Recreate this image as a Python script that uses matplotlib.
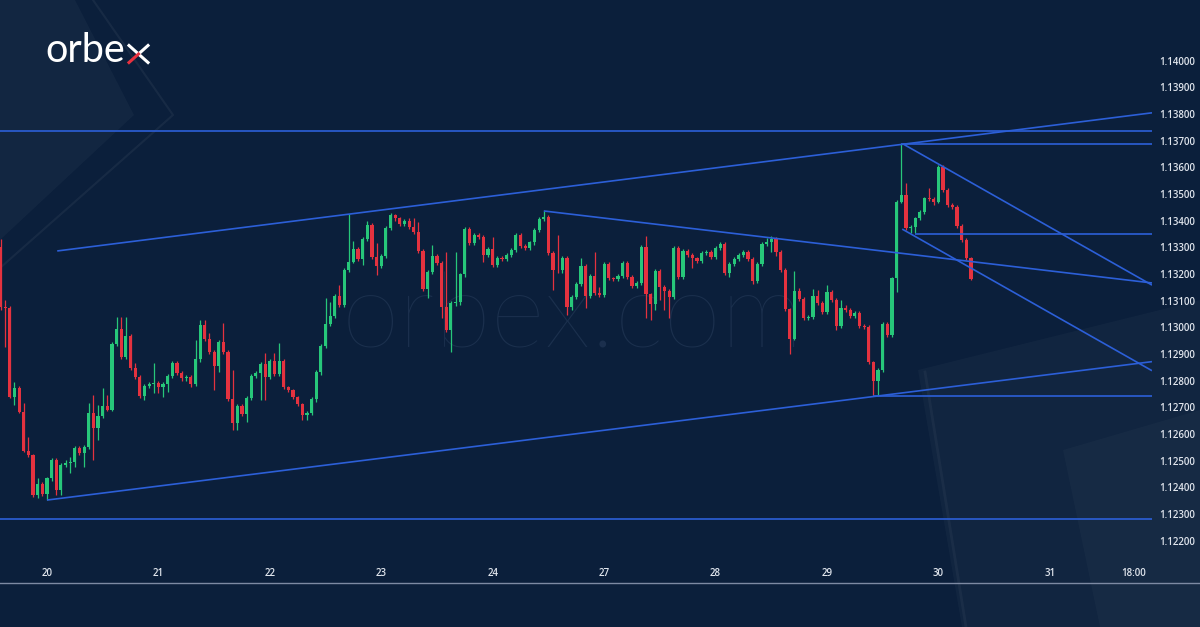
import numpy as np
import matplotlib
matplotlib.use("Agg")
import matplotlib.pyplot as plt
from matplotlib.patches import Polygon

# ---------------- data (H1 candles, hours counted from the "20" day label) ----------------
first_open = 1.13302
closes = [
    1.13075, 1.13071, 1.12739, 1.12771, 1.12683, 1.12537, 1.12521, 1.12371, 1.12412, 1.12375,
    1.12435, 1.12502, 1.12390, 1.12483, 1.12491, 1.12495, 1.12547, 1.12528, 1.12551, 1.12678,
    1.12622, 1.12667, 1.12705, 1.12690, 1.12937, 1.12993, 1.12888, 1.12967, 1.12847, 1.12813,
    1.12742, 1.12780, 1.12787, 1.12792, 1.12776, 1.12787, 1.12817, 1.12866, 1.12828, 1.12810,
    1.12813, 1.12787, 1.12881, 1.13008, 1.12956, 1.12907, 1.12855, 1.12945, 1.12907, 1.12731,
    1.12641, 1.12705, 1.12675, 1.12735, 1.12817, 1.12828, 1.12862, 1.12813, 1.12873, 1.12825,
    1.12873, 1.12776, 1.12765, 1.12738, 1.12712, 1.12671, 1.12678, 1.12731, 1.12832, 1.12930,
    1.13012, 1.13042, 1.13118, 1.13083, 1.13215, 1.13246, 1.13293, 1.13256, 1.13331, 1.13383,
    1.13264, 1.13231, 1.13267, 1.13373, 1.13421, 1.13408, 1.13387, 1.13398, 1.13375, 1.13358,
    1.13287, 1.13143, 1.13208, 1.13267, 1.13240, 1.13075, 1.12990, 1.13090, 1.13094, 1.13198,
    1.13367, 1.13317, 1.13346, 1.13338, 1.13271, 1.13292, 1.13233, 1.13261, 1.13256, 1.13271,
    1.13290, 1.13346, 1.13305, 1.13296, 1.13318, 1.13365, 1.13406, 1.13414, 1.13277, 1.13215,
    1.13213, 1.13260, 1.13077, 1.13114, 1.13161, 1.13229, 1.13117, 1.13192, 1.13127, 1.13121,
    1.13236, 1.13183, 1.13181, 1.13192, 1.13240, 1.13189, 1.13155, 1.13165, 1.13302, 1.13123,
    1.13087, 1.13211, 1.13152, 1.13137, 1.13114, 1.13298, 1.13187, 1.13287, 1.13271, 1.13258,
    1.13249, 1.13277, 1.13283, 1.13264, 1.13298, 1.13311, 1.13202, 1.13236, 1.13255, 1.13271,
    1.13283, 1.13255, 1.13173, 1.13236, 1.13311, 1.13320, 1.13330, 1.13283, 1.13215, 1.13067,
    1.12955, 1.13136, 1.13106, 1.13033, 1.13038, 1.13117, 1.13092, 1.13058, 1.13133, 1.13102,
    1.13005, 1.13071, 1.13064, 1.13042, 1.13054, 1.13005, 1.13002, 1.12868, 1.12800, 1.12840,
    1.13013, 1.12971, 1.13183, 1.13471, 1.13496, 1.13371, 1.13375, 1.13408, 1.13433, 1.13483,
    1.13481, 1.13471, 1.13600, 1.13515, 1.13458, 1.13452, 1.13380, 1.13327, 1.13258, 1.13180,
]
highs = [
    1.13331, 1.13102, 1.13080, 1.12796, 1.12780, 1.12716, 1.12589, 1.12525, 1.12435, 1.12420,
    1.12440, 1.12510, 1.12510, 1.12490, 1.12502, 1.12513, 1.12555, 1.12555, 1.12558, 1.12716,
    1.12746, 1.12708, 1.12772, 1.12746, 1.12945, 1.13038, 1.13038, 1.13038, 1.12975, 1.12866,
    1.12820, 1.12788, 1.12795, 1.12866, 1.12800, 1.12795, 1.12825, 1.12875, 1.12875, 1.12835,
    1.12820, 1.12820, 1.12952, 1.13027, 1.13027, 1.12978, 1.12915, 1.12952, 1.13016, 1.12915,
    1.12840, 1.12712, 1.12712, 1.12742, 1.12825, 1.12835, 1.12870, 1.12903, 1.12880, 1.12903,
    1.12941, 1.12880, 1.12780, 1.12770, 1.12742, 1.12716, 1.12685, 1.12738, 1.12840, 1.12937,
    1.13110, 1.13096, 1.13125, 1.13158, 1.13222, 1.13425, 1.13323, 1.13300, 1.13338, 1.13398,
    1.13390, 1.13317, 1.13275, 1.13380, 1.13428, 1.13425, 1.13415, 1.13405, 1.13411, 1.13410,
    1.13396, 1.13295, 1.13215, 1.13308, 1.13275, 1.13248, 1.13283, 1.13098, 1.13283, 1.13205,
    1.13375, 1.13375, 1.13353, 1.13353, 1.13345, 1.13300, 1.13338, 1.13268, 1.13268, 1.13278,
    1.13298, 1.13353, 1.13353, 1.13312, 1.13325, 1.13372, 1.13413, 1.13437, 1.13421, 1.13284,
    1.13346, 1.13268, 1.13268, 1.13121, 1.13168, 1.13260, 1.13236, 1.13199, 1.13283, 1.13152,
    1.13243, 1.13243, 1.13190, 1.13199, 1.13247, 1.13247, 1.13196, 1.13172, 1.13309, 1.13342,
    1.13130, 1.13218, 1.13218, 1.13159, 1.13144, 1.13305, 1.13305, 1.13294, 1.13294, 1.13278,
    1.13265, 1.13284, 1.13290, 1.13290, 1.13305, 1.13318, 1.13318, 1.13243, 1.13262, 1.13278,
    1.13290, 1.13290, 1.13262, 1.13243, 1.13318, 1.13335, 1.13342, 1.13337, 1.13290, 1.13222,
    1.13074, 1.13211, 1.13147, 1.13113, 1.13045, 1.13143, 1.13140, 1.13099, 1.13158, 1.13140,
    1.13109, 1.13102, 1.13083, 1.13071, 1.13061, 1.13061, 1.13012, 1.13009, 1.12875, 1.12847,
    1.13020, 1.13020, 1.13190, 1.13478, 1.13688, 1.13541, 1.13382, 1.13415, 1.13440, 1.13490,
    1.13521, 1.13488, 1.13608, 1.13608, 1.13522, 1.13465, 1.13459, 1.13387, 1.13334, 1.13265,
]
lows = [
    1.13064, 1.12927, 1.12735, 1.12708, 1.12678, 1.12532, 1.12514, 1.12363, 1.12360, 1.12367,
    1.12352, 1.12425, 1.12371, 1.12371, 1.12476, 1.12453, 1.12476, 1.12520, 1.12476, 1.12545,
    1.12502, 1.12577, 1.12660, 1.12685, 1.12685, 1.12930, 1.12880, 1.12880, 1.12840, 1.12805,
    1.12735, 1.12727, 1.12772, 1.12753, 1.12753, 1.12738, 1.12757, 1.12810, 1.12820, 1.12800,
    1.12800, 1.12776, 1.12780, 1.12870, 1.12950, 1.12900, 1.12765, 1.12832, 1.12900, 1.12725,
    1.12615, 1.12615, 1.12668, 1.12645, 1.12728, 1.12810, 1.12727, 1.12727, 1.12805, 1.12818,
    1.12818, 1.12770, 1.12757, 1.12730, 1.12705, 1.12652, 1.12652, 1.12670, 1.12720, 1.12820,
    1.12922, 1.13005, 1.13035, 1.13075, 1.13075, 1.13208, 1.13240, 1.13248, 1.13233, 1.13323,
    1.13256, 1.13196, 1.13223, 1.13260, 1.13365, 1.13400, 1.13380, 1.13380, 1.13368, 1.13350,
    1.13280, 1.13135, 1.13108, 1.13200, 1.13233, 1.13034, 1.12982, 1.12908, 1.13080, 1.13083,
    1.13190, 1.13310, 1.13310, 1.13330, 1.13245, 1.13263, 1.13225, 1.13226, 1.13248, 1.13248,
    1.13263, 1.13283, 1.13298, 1.13288, 1.13288, 1.13310, 1.13358, 1.13398, 1.13270, 1.13140,
    1.13205, 1.13205, 1.13046, 1.13064, 1.13107, 1.13153, 1.13072, 1.13110, 1.13120, 1.13113,
    1.13113, 1.13176, 1.13174, 1.13174, 1.13185, 1.13182, 1.13148, 1.13148, 1.13158, 1.13034,
    1.13027, 1.13064, 1.13102, 1.13064, 1.13034, 1.13107, 1.13180, 1.13180, 1.13264, 1.13222,
    1.13242, 1.13242, 1.13270, 1.13257, 1.13257, 1.13291, 1.13195, 1.13188, 1.13229, 1.13248,
    1.13264, 1.13248, 1.13162, 1.13166, 1.13229, 1.13304, 1.13282, 1.13267, 1.13208, 1.13060,
    1.12900, 1.12952, 1.13099, 1.13026, 1.13027, 1.13031, 1.13085, 1.13051, 1.13051, 1.13095,
    1.12990, 1.12997, 1.13057, 1.13035, 1.13034, 1.12998, 1.12995, 1.12861, 1.12746, 1.12742,
    1.12833, 1.12964, 1.12963, 1.13133, 1.13466, 1.13364, 1.13353, 1.13352, 1.13401, 1.13426,
    1.13474, 1.13458, 1.13464, 1.13508, 1.13451, 1.13445, 1.13373, 1.13320, 1.13251, 1.13177,
]
first_hour = -10  # first candle is 10 hours before the "20" label

# x-axis labels: hour offsets and their labels
tick_hours = [0, 24, 48, 72, 96, 120, 144, 168, 192, 216, 234]
tick_labels = ["20", "21", "22", "23", "24", "27", "28", "29", "30", "31", "18:00"]

# price axis ticks
price_ticks = [1.122, 1.123, 1.124, 1.125, 1.126, 1.127, 1.128, 1.129, 1.130, 1.131,
               1.132, 1.133, 1.134, 1.135, 1.136, 1.137, 1.138, 1.139, 1.140]

# drawn trend lines: (hour0, price0, hour1, price1)
trend_lines = [
    (-11, 1.13736, 238, 1.13736),    # top horizontal resistance
    (-11, 1.12281, 238, 1.12281),    # bottom horizontal support
    (2.2, 1.13286, 238, 1.13804),    # rising channel top
    (0.0, 1.12352, 238, 1.12871),    # rising channel bottom
    (184, 1.13688, 238, 1.13688),    # peak horizontal
    (178, 1.12742, 238, 1.12742),    # low horizontal
    (107, 1.13436, 238, 1.13166),    # descending line from 24th
    (187, 1.13348, 238, 1.13348),    # short horizontal
    (184.4, 1.13687, 238, 1.13158),  # falling channel top
    (184.2, 1.13368, 238, 1.12837),  # falling channel bottom
]

# ---------------- style ----------------
BG = "#0b1f3b"
GREEN = "#27c77a"
RED = "#e4323f"
BLUE = "#2c5fd8"
TXT = "#dfe4ec"

W, H = 1200, 627
fig = plt.figure(figsize=(W / 100, H / 100), dpi=100, facecolor=BG)

# decorative faint background shapes (pixel coordinates, y downward)
bg_ax = fig.add_axes([0, 0, 1, 1], zorder=0)
bg_ax.set_xlim(0, W)
bg_ax.set_ylim(H, 0)
bg_ax.axis("off")
bg_ax.set_facecolor(BG)
bg_ax.add_patch(Polygon([(0, 0), (75, 0), (134, 115), (0, 240)], closed=True,
                        facecolor="white", alpha=0.03, edgecolor="none"))
bg_ax.plot([93, 173, 0], [0, 115, 268], color="white", alpha=0.05, linewidth=1.5)
bg_ax.add_patch(Polygon([(918, 370), (1200, 300), (1200, 627), (962, 627)], closed=True,
                        facecolor="white", alpha=0.028, edgecolor="none"))
bg_ax.add_patch(Polygon([(1063, 450), (1200, 410), (1200, 627), (1100, 627)], closed=True,
                        facecolor="white", alpha=0.025, edgecolor="none"))
bg_ax.plot([925, 966], [372, 627], color="white", alpha=0.04, linewidth=2)

# watermark
fig.text(0.477, 1 - 348 / H, "orbex.com", fontsize=75, color="#8aa0c8", alpha=0.13,
         ha="center", va="baseline", family=["Lato", "DejaVu Sans"], fontweight="light", zorder=1)

# main axes
ax = fig.add_axes([0, 44 / H, 1152 / W, 583 / H], zorder=2)
ax.patch.set_alpha(0)
n = len(closes)
hours = np.arange(first_hour, first_hour + n)
opens = np.array([first_open] + closes[:-1])
closes_a = np.array(closes)
highs_a = np.array(highs)
lows_a = np.array(lows)
up = closes_a >= opens
colors = np.where(up, GREEN, RED)

ax.vlines(hours, lows_a, highs_a, colors=colors, linewidth=0.9, zorder=3)
body_bottom = np.minimum(opens, closes_a)
body_h = np.maximum(np.abs(closes_a - opens), 0.000025)
ax.bar(hours, body_h, bottom=body_bottom, width=0.68, color=colors, linewidth=0, zorder=4)

for h0, p0, h1, p1 in trend_lines:
    ax.plot([h0, h1], [p0, p1], color=BLUE, linewidth=1.2, zorder=5, solid_capstyle="butt")

ax.set_xlim(-10.12, 238.0)
ax.set_ylim(1.12041, 1.14227)
for s in ax.spines.values():
    s.set_visible(False)

ax.yaxis.tick_right()
ax.set_yticks(price_ticks)
ax.set_yticklabels([f"{p:.5f}" for p in price_ticks])
ax.tick_params(axis="y", length=0, pad=5, labelsize=7, labelcolor=TXT)
for lab in ax.get_yticklabels():
    lab.set_family(["Open Sans", "DejaVu Sans"])
    lab.set_fontweight("semibold")

ax.set_xticks(tick_hours)
ax.set_xticklabels(tick_labels)
ax.tick_params(axis="x", length=0, direction="in", pad=-11, labelsize=7, labelcolor=TXT)
for lab in ax.get_xticklabels():
    lab.set_family(["Open Sans", "DejaVu Sans"])
    lab.set_fontweight("semibold")

# separator line under the time axis
fig.add_artist(plt.Line2D([0, 1], [44 / H, 44 / H], color="#7d8aa3", linewidth=1.0, zorder=6))

# logo
fig.text(45 / W, 1 - 62.5 / H, "orbe", fontsize=28.5, color="white", ha="left", va="baseline",
         family=["Lato", "DejaVu Sans"], fontweight="normal", zorder=7)
# 'x' of the logo drawn as two strokes (white and red)
x0, x1, y0, y1 = 129, 148, 45.5, 62.5
xm, ym = (x0 + x1) / 2, (y0 + y1) / 2
fig.add_artist(plt.Line2D([x0 / W, x1 / W], [1 - y0 / H, 1 - y1 / H], color="white", linewidth=2.2, zorder=7))
fig.add_artist(plt.Line2D([x1 / W, xm / W], [1 - y0 / H, 1 - ym / H], color="white", linewidth=2.2, zorder=7))
fig.add_artist(plt.Line2D([xm / W, x0 / W], [1 - ym / H, 1 - y1 / H], color="#e8313f", linewidth=2.2, zorder=7))

fig.savefig("out.png", dpi=100, facecolor=BG)
